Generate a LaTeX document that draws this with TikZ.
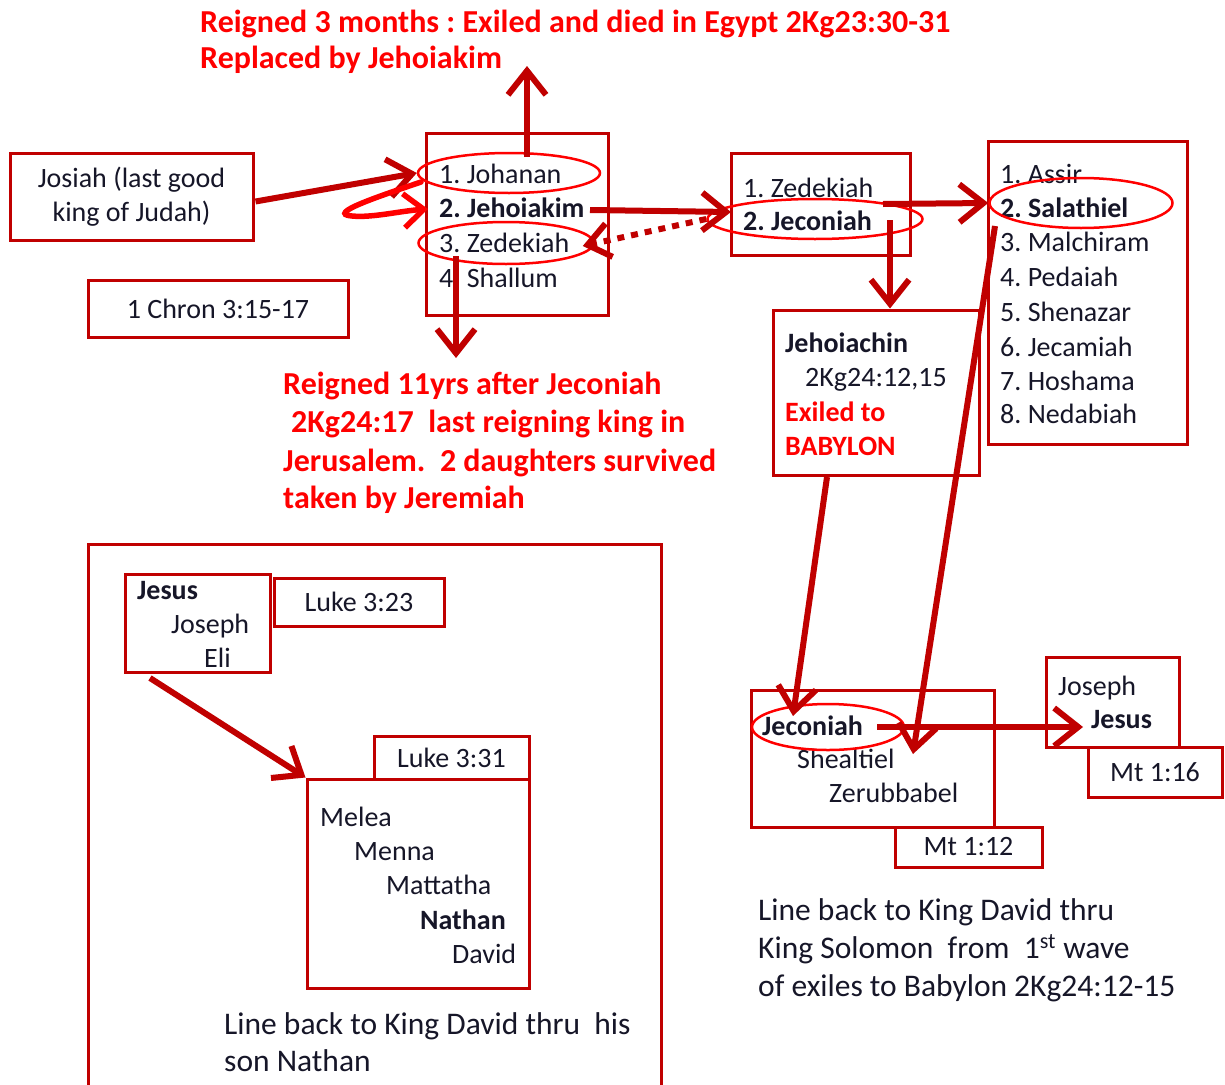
\documentclass[tikz,border=0pt]{standalone}
\usepackage{fontspec}
\setmainfont{Carlito}
\usetikzlibrary{arrows.meta,shapes.geometric,calc}
\definecolor{dred}{RGB}{192,0,0}
\definecolor{bred}{RGB}{255,0,0}
\definecolor{ink}{RGB}{22,22,40}
\begin{document}
\frenchspacing
\begin{tikzpicture}[x=1pt,y=-1pt,
  box/.style={draw=dred,line width=3pt,rectangle,inner sep=0pt,text=ink,
    font=\fontsize{28}{34}\selectfont},
  oval/.style={draw=bred,line width=2.5pt,ellipse,inner sep=0pt},
  txt/.style={anchor=base west,inner sep=0pt,text=ink,font=\fontsize{28}{34}\selectfont},
  btxt/.style={anchor=base west,inner sep=0pt,text=ink,font=\fontsize{28}{34}\selectfont\bfseries},
  rbtxt/.style={anchor=base west,inner sep=0pt,text=bred,font=\fontsize{28}{34}\selectfont\bfseries},
  rtxt/.style={anchor=base west,inner sep=0pt,text=bred,font=\fontsize{32}{38}\selectfont\bfseries},
  ctxt/.style={anchor=base west,inner sep=0pt,text=ink,font=\fontsize{31.5}{38}\selectfont},
  arr/.style={draw=dred,line width=6pt,-{Straight Barb[length=24pt,width=38pt]}},
  dotarr/.style={draw=dred,line width=6pt,dash pattern=on 7pt off 7pt,-{Straight Barb[length=22pt,width=34pt]}},
  looparr/.style={draw=bred,line width=5.5pt,line cap=round,-{Straight Barb[length=20pt,width=34pt]}},
]
\useasboundingbox[fill=white] (0,0) rectangle (1225,1084);

% ---------- top red text ----------
\node[rtxt] (top1) at (200,32) {Reigned 3 months : Exiled and died in Egypt 2Kg23:30-31};
\node[rtxt] (top2) at (200,68) {Replaced by Jehoiakim};

% ---------- boxes ----------
\node[box,minimum width=243,minimum height=87,align=center] (josiah) at (131.5,196.5)
  {Josiah (last good\\king of Judah)};
\node[box,minimum width=260,minimum height=57] (chron) at (218,308.5) {1 Chron 3:15-17};
\node[box,minimum width=182,minimum height=182] (kings) at (517,224) {};
\node[box,minimum width=179,minimum height=102] (jecbox) at (820.5,204) {};
\node[box,minimum width=199,minimum height=303] (sala) at (1087.5,292.5) {};
\node[box,minimum width=206,minimum height=165] (jehoia) at (876,392.5) {};
\node[box,minimum width=243,minimum height=137] (lowjec) at (872.5,758.5) {};
\node[box,minimum width=147,minimum height=40] (mt12) at (968.5,847) {Mt 1:12};
\node[box,minimum width=133,minimum height=90] (josjes) at (1112.5,702) {};
\node[box,minimum width=134,minimum height=50] (mt16) at (1155,772) {Mt 1:16};
\node[box,minimum width=145,minimum height=98] (jesbox) at (197.5,623) {};
\node[box,minimum width=170,minimum height=48] (luke23) at (359,602) {Luke 3:23};
\node[box,minimum width=155,minimum height=43] (luke31) at (451.5,757.5) {Luke 3:31};
\node[box,minimum width=222,minimum height=209] (melea) at (418,883.5) {};
\draw[draw=dred,line width=3pt] (88,1090) -- (88,544) -- (661,544) -- (661,1090);

% ---------- texts in boxes ----------
\node[txt]  (k1) at (439,183) {1. Johanan};
\node[btxt] (k2) at (439,217) {2. Jehoiakim};
\node[txt]  (k3) at (439,252) {3. Zedekiah};
\node[txt]  (k4) at (439,287) {4. Shallum};

\node[txt]  (j1) at (743,197) {1. Zedekiah};
\node[btxt] (j2) at (743,230) {2. Jeconiah};

\node[txt]  (s1) at (1000,183) {1. Assir};
\node[btxt] (s2) at (1000,217) {2. Salathiel};
\node[txt]  (s3) at (1000,251) {3. Malchiram};
\node[txt]  (s4) at (1000,286) {4. Pedaiah};
\node[txt]  (s5) at (1000,321) {5. Shenazar};
\node[txt]  (s6) at (1000,356) {6. Jecamiah};
\node[txt]  (s7) at (1000,390) {7. Hoshama};
\node[txt]  (s8) at (1000,423) {8. Nedabiah};

\node[btxt]  (h1) at (785,352) {Jehoiachin};
\node[txt]   (h2) at (805,386) {2Kg24:12,15};
\node[rbtxt] (h3) at (785,421) {Exiled to};
\node[rbtxt] (h4) at (785,455) {BABYLON};

\node[btxt] (l1) at (762,735) {Jeconiah};
\node[txt]  (l2) at (797,768) {Shealtiel};
\node[txt]  (l3) at (829,802) {Zerubbabel};

\node[txt]  (jj1) at (1058,695) {Joseph};
\node[btxt] (jj2) at (1091,728) {Jesus};

\node[btxt] (e1) at (137,599) {Jesus};
\node[txt]  (e2) at (171,633) {Joseph};
\node[txt]  (e3) at (204,667) {Eli};

\node[txt]  (m1) at (320,826) {Melea};
\node[txt]  (m2) at (354,860) {Menna};
\node[txt]  (m3) at (386,894) {Mattatha};
\node[btxt] (m4) at (420,929) {Nathan};
\node[txt]  (m5) at (452,963) {David};

% ---------- red notes and captions ----------
\node[rtxt] (r1) at (283,394) {Reigned 11yrs after Jeconiah};
\node[rtxt] (r2) at (283,432) {\hspace*{0.25em}2Kg24:17\ \ last reigning king in};
\node[rtxt] (r3) at (283,471) {Jerusalem.\ \ 2 daughters survived};
\node[rtxt] (r4) at (283,508) {taken by Jeremiah};

\node[ctxt] (c1) at (758,920) {Line back to King David thru};
\node[ctxt] (c2) at (758,958) {King Solomon\ \ from\ \ 1\textsuperscript{st} wave};
\node[ctxt] (c3) at (758,996) {of exiles to Babylon 2Kg24:12-15};

\node[ctxt] (d1) at (224,1034) {Line back to King David thru\ \ his};
\node[ctxt] (d2) at (224,1071) {son Nathan};

% ---------- ovals ----------
\node[oval,minimum width=182,minimum height=40] (ejoh) at (509,173) {};
\node[oval,minimum width=175,minimum height=42] (ezed) at (506,243) {};
\node[oval,minimum width=215,minimum height=40] (ejec) at (815,219) {};
\node[oval,minimum width=183,minimum height=50] (esal) at (1081,203) {};
\node[oval,minimum width=152,minimum height=46] (elow) at (828,727) {};

% ---------- connectors ----------
\coordinate (upS) at (527,157);
\coordinate (upE) at (527,66);
\draw[arr] (upS) -- (upE);

\draw[arr] ($(josiah.east)+(1,5)$) -- (ejoh.west);

\coordinate (loopA) at (421,182);
\coordinate (loopB) at (428,209);
\draw[looparr] (loopA) .. controls (380,196) and (325,214) .. (352,216)
   .. controls (372,218) and (400,211) .. (loopB);

\coordinate (jkS) at (590,210);
\coordinate (jkE) at (731,212);
\draw[arr] (jkS) -- (jkE);

\draw[dotarr] (ejec.west) -- ($(ezed.east)+(-12,3)$);

\coordinate (zdS) at (456,256);
\coordinate (zdE) at (456,358);
\draw[arr] (zdS) -- (zdE);

\coordinate (jsS) at (883,204);
\draw[arr] (jsS) -- (esal.west);

\coordinate (jdS) at (890,220);
\draw[arr] (jdS) -- (jehoia.north -| jdS);

\coordinate (hlS) at (827,477);
\coordinate (hlE) at (793,716);
\draw[arr] (hlS) -- (hlE);

\coordinate (slS) at (995,226);
\coordinate (slE) at (913,754);
\draw[arr] (slS) -- (slE);

\coordinate (ljS) at (877,727);
\coordinate (ljE) at (1083,727);
\draw[arr] (ljS) -- (ljE);

\coordinate (elS) at (150,678);
\draw[arr] (elS) -- (melea.north west);
\end{tikzpicture}
\end{document}
